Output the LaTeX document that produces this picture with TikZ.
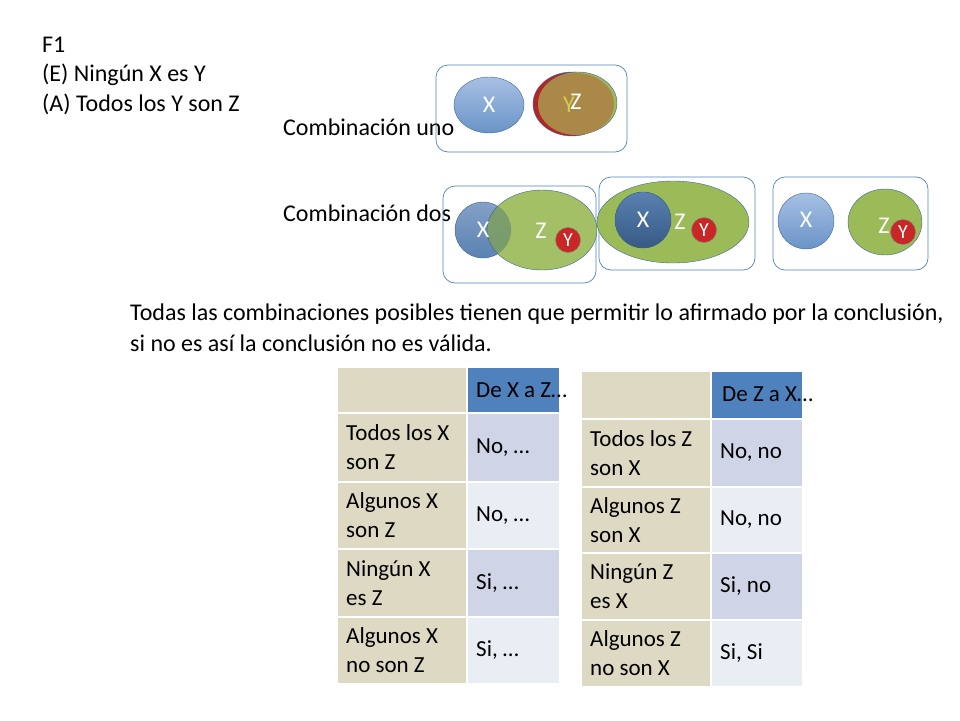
\documentclass[tikz,border=0pt]{standalone}
\usepackage{fontspec}
\setmainfont{Carlito}
\definecolor{tan}{HTML}{DDD9C3}
\definecolor{hdr}{HTML}{4F81BD}
\definecolor{rowa}{HTML}{CFD5E6}
\definecolor{rowb}{HTML}{E9EDF4}
\definecolor{zg}{HTML}{9BBB59}
\definecolor{bl}{HTML}{4F81BD}
\definecolor{bll}{HTML}{A7C0E4}
\begin{document}
\begin{tikzpicture}[x=1pt,y=-1pt,
 txt/.style={font=\fontsize{24}{28}\selectfont,anchor=west,inner sep=0},
 frame/.style={draw=bl,rounded corners=12pt,line width=0.7pt},
 xball/.style={top color=bll,bottom color=bl!85!white,draw=bl!80!black},
 zball/.style={fill=zg,draw=bl!80!black},
 setY/.style={circle,draw=gray,fill=red!75!black!85,text=white,font=\fontsize{20}{20}\selectfont,inner sep=0,minimum size=25pt},
 lab/.style={text=white,font=\fontsize{24}{24}\selectfont},
 cell/.style={draw=white,line width=1.2pt},
 ct/.style={font=\fontsize{23}{29}\selectfont,align=left,anchor=west,inner sep=0},
]
\useasboundingbox (0,0) rectangle (960,720);
\node[txt] (t1) at (42,45) {F1};
\node[txt] (t2) at (42,75) {(E) Ningún X es Y};
\node[txt] (t3) at (42,104) {(A) Todos los Y son Z};
\node[txt] (c1) at (283,127) {Combinación uno};
\node[txt] (c2) at (283,213) {Combinación dos};
% combination one
\draw[frame] (436,65) rectangle (627,152);
\path[xball] (489,105) ellipse (35 and 28);
\node[lab] (x1) at (489,105) {X};
\fill[red!65!black!85,draw=bl!80!black] (572,104) ellipse (39 and 32);
\fill[zg,draw=bl!80!black] (578,103) ellipse (39 and 31);
\fill[brown!70!olive!90!black!85] (576,104) ellipse (38 and 31);
\node[lab,text=yellow!60!gray] (y1) at (569,105) {Y};
\node[lab] (z1) at (576,102) {Z};
% combination two A
\draw[frame] (443,186) rectangle (596,283);
\path[xball] (483,230) circle (28);
\path[zball,fill opacity=0.92] (542,230) ellipse (55 and 40);
\fill[bl!70!black,opacity=0.3] (483,230) circle (28);
\node[lab] (x2) at (483,230) {X};
\node[lab] (z2) at (541,231) {Z};
\node[setY] (y2) at (568,240) {Y};
% B
\draw[frame] (599,177) rectangle (755,270);
\path[zball] (673,222) ellipse (76 and 41);
\fill[top color=bl!80!gray,bottom color=bl!70!black,draw=bl!80!black] (643,220) circle (28);
\node[lab] (x3) at (643,220) {X};
\node[lab] (z3) at (680,222) {Z};
\node[setY] (y3) at (704,230) {Y};
% C
\draw[frame] (773,177) rectangle (928,270);
\path[xball] (806,221) circle (28);
\node[lab] (x4) at (806,220) {X};
\path[zball] (885,222) ellipse (37 and 33);
\node[lab] (z4) at (884,226) {Z};
\node[setY] (y4) at (903,232) {Y};
% statement
\node[txt] (s1) at (130,314) {Todas las combinaciones posibles tienen que permitir lo afirmado por la conclusión,};
\node[txt] (s2) at (130,343) {si no es así la conclusión no es válida.};
% left table
\path[cell,fill=tan] (337,367) rectangle (467,413);
\path[cell,fill=hdr] (467,367) rectangle (560,413);
\node[ct] (la0) at (476,390) {De X a Z…};
\foreach \ya/\yb/\c/\l/\r [count=\i] in {413/482/rowa/{Todos los X\\son Z}/{No, …},482/549/rowb/{Algunos X\\son Z}/{No, …},549/617/rowa/{Ningún X\\es Z}/{Si, …},617/684/rowb/{Algunos X\\no son Z}/{Si, …}}{
 \path[cell,fill=tan] (337,\ya) rectangle (467,\yb);
 \path[cell,fill=\c] (467,\ya) rectangle (560,\yb);
 \node[ct] (ll\i) at (346,{(\ya+\yb)/2}) {\l};
 \node[ct] (lr\i) at (476,{(\ya+\yb)/2}) {\r};
}
% right table
\path[cell,fill=tan] (581,371) rectangle (711,419);
\path[cell,fill=hdr] (711,371) rectangle (803,419);
\node[ct] (ra0) at (722,394) {De Z a X…};
\foreach \ya/\yb/\c/\l/\r [count=\i] in {419/487/rowa/{Todos los Z\\son X}/{No, no},487/553/rowb/{Algunos Z\\son X}/{No, no},553/620/rowa/{Ningún Z\\es X}/{Si, no},620/687/rowb/{Algunos Z\\no son X}/{Si, Si}}{
 \path[cell,fill=tan] (581,\ya) rectangle (711,\yb);
 \path[cell,fill=\c] (711,\ya) rectangle (803,\yb);
 \node[ct] (rl\i) at (590,{(\ya+\yb)/2}) {\l};
 \node[ct] (rr\i) at (720,{(\ya+\yb)/2}) {\r};
}
\end{tikzpicture}
\end{document}
